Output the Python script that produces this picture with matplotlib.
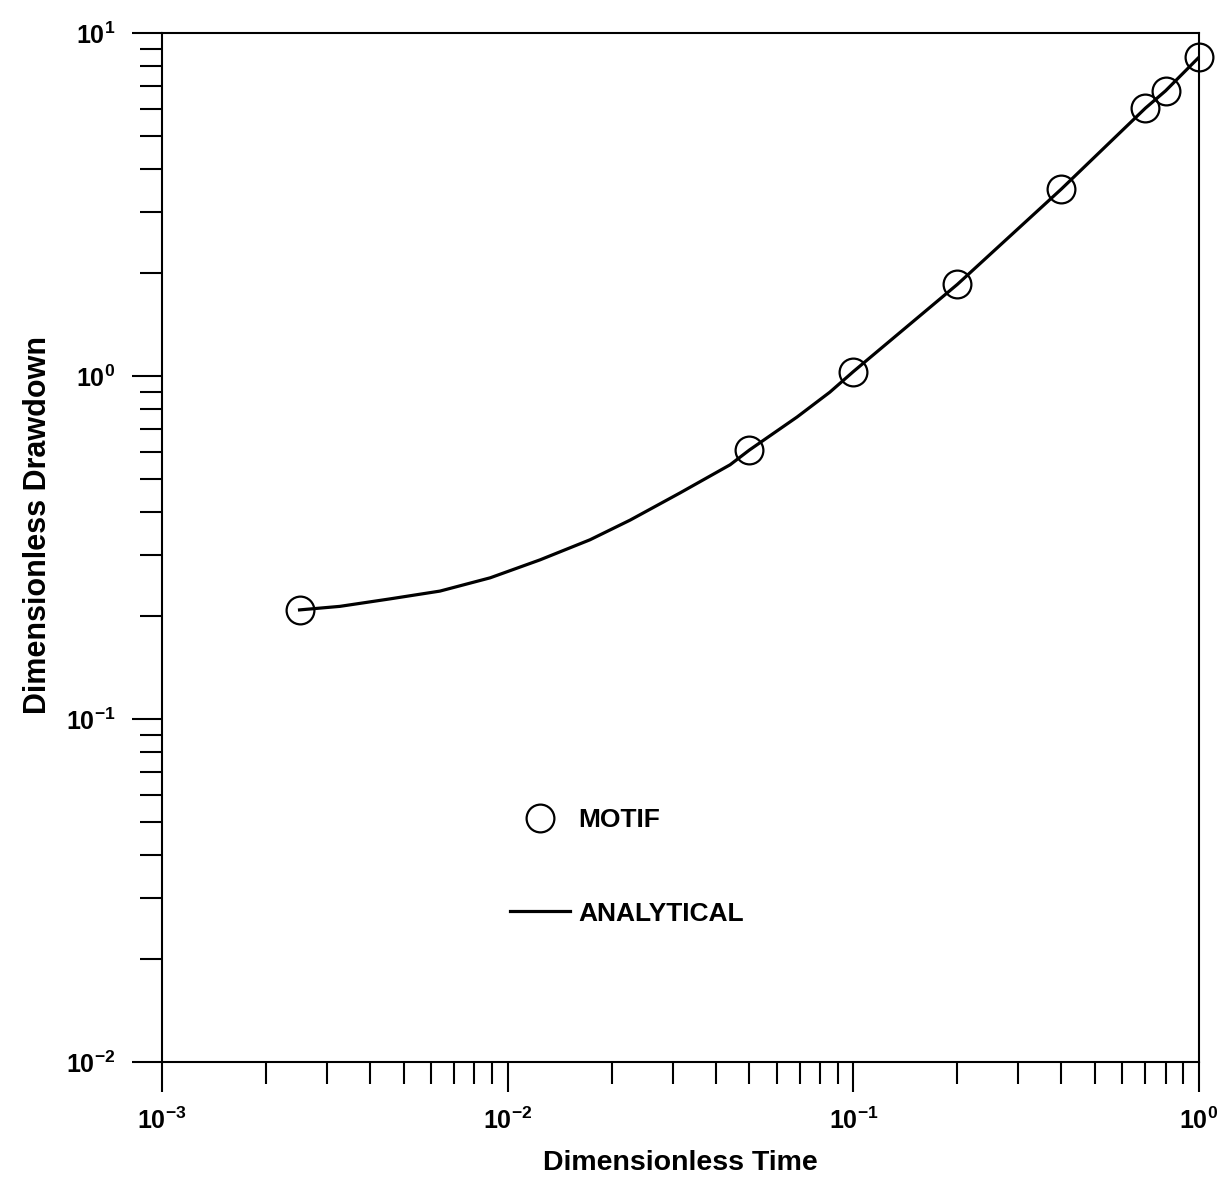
import math
import matplotlib
matplotlib.use('Agg')
import matplotlib.pyplot as plt
from matplotlib.ticker import LogLocator, FuncFormatter, NullFormatter

plt.rcParams['font.family'] = ['Liberation Sans', 'DejaVu Sans']
plt.rcParams['mathtext.fontset'] = 'custom'
plt.rcParams['mathtext.bf'] = 'Liberation Sans:bold'
plt.rcParams['mathtext.rm'] = 'Liberation Sans:bold'

# MOTIF simulation points
motif_t = [0.0025, 0.05, 0.1, 0.2, 0.4, 0.7, 0.8, 1.0]
motif_s = [0.208, 0.608, 1.03, 1.85, 3.51, 6.04, 6.78, 8.5]

# analytical solution
anal_t = [0.0025, 0.00327, 0.00457, 0.00637, 0.0089, 0.0124, 0.0173,
          0.0226, 0.0315, 0.044, 0.05, 0.0687, 0.0855, 0.1, 0.2, 0.4,
          0.7, 0.8, 1.0]
anal_s = [0.208, 0.213, 0.224, 0.236, 0.258, 0.291, 0.333,
          0.380, 0.456, 0.551, 0.608, 0.759, 0.897, 1.03, 1.85, 3.51,
          6.04, 6.78, 8.5]

fig = plt.figure(figsize=(12.3, 11.99), dpi=100)
ax = fig.add_axes([162/1230, 137/1199, 1037/1230, 1029/1199])

ax.plot(anal_t, anal_s, color='black', lw=2.3, label='ANALYTICAL', zorder=3,
        solid_joinstyle='round')
ax.plot(motif_t, motif_s, 'o', ms=20, mfc='none', mec='black', mew=1.6,
        label='MOTIF', clip_on=False, zorder=4)

ax.set_xscale('log')
ax.set_yscale('log')
ax.set_xlim(1e-3, 1e0)
ax.set_ylim(1e-2, 1e1)

fmt = FuncFormatter(lambda v, p: r'$\mathbf{10^{%d}}$' % round(math.log10(v)))
for axis in (ax.xaxis, ax.yaxis):
    axis.set_major_locator(LogLocator(base=10))
    axis.set_minor_locator(LogLocator(base=10, subs=range(2, 10)))
    axis.set_major_formatter(fmt)
    axis.set_minor_formatter(NullFormatter())

ax.tick_params(which='major', length=21.5, width=1.5, direction='out',
               labelsize=18, top=False, right=False)
ax.tick_params(which='minor', length=16, width=1.5, direction='out',
               top=False, right=False)
ax.tick_params(axis='x', which='major', pad=11)
ax.tick_params(axis='y', which='major', pad=12)

for sp in ax.spines.values():
    sp.set_linewidth(1.5)
    sp.set_color('black')

ax.set_xlabel('Dimensionless Time', fontsize=20.5, fontweight='bold', va='center')
ax.xaxis.set_label_coords(0.5, -0.098)
ax.set_ylabel('Dimensionless Drawdown', fontsize=22, fontweight='bold', va='center')
ax.yaxis.set_label_coords(-0.12, 0.522)

handles, labels = ax.get_legend_handles_labels()
leg = ax.legend(handles[::-1], labels[::-1], loc='upper left',
                bbox_to_anchor=(0.336, 0.247), frameon=False,
                prop={'weight': 'bold', 'size': 19}, handlelength=2.27,
                handletextpad=0.3, labelspacing=2.64, borderpad=0,
                borderaxespad=0, markerscale=1.0)

fig.savefig('out.png', dpi=100)
